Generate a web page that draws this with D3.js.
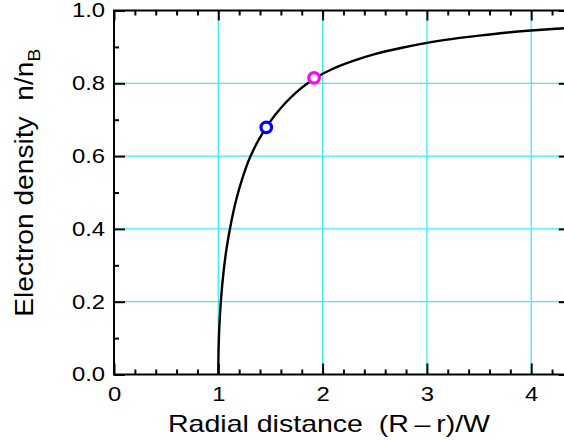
<!DOCTYPE html>
<html>
<head>
<meta charset="utf-8">
<script src="https://cdn.jsdelivr.net/npm/d3@7"></script>
<style>
  html, body { margin: 0; padding: 0; background: #fff; }
  svg { display: block; }
  text { font-family: Arial, "Liberation Sans", Helvetica, sans-serif; fill: #000; }
</style>
</head>
<body>
<svg id="chart" width="564" height="440"></svg>
<script>
// ---- data ----
const curveX = [1.0, 1.001, 1.004, 1.01, 1.025, 1.05, 1.08, 1.12, 1.17, 1.23, 1.30, 1.38, 1.46, 1.55, 1.65, 1.75, 1.85, 1.95, 2.1, 2.3, 2.5, 2.75, 3.0, 3.25, 3.5, 3.75, 4.0, 4.2, 4.4];
const curveY = [0.0, 0.043, 0.084, 0.131, 0.203, 0.281, 0.348, 0.413, 0.478, 0.538, 0.594, 0.641, 0.679, 0.715, 0.748, 0.776, 0.799, 0.818, 0.840, 0.862, 0.880, 0.897, 0.911, 0.922, 0.931, 0.939, 0.945, 0.949, 0.953];
const markerNames = ["blue", "magenta"];
const markerX = [1.46, 1.918];
const markerY = [0.679, 0.815];
const xTickValues = [0, 1, 2, 3, 4];
const xTickLabels = ["0", "1", "2", "3", "4"];
const xMinorValues = [0.2,0.4,0.6,0.8,1.2,1.4,1.6,1.8,2.2,2.4,2.6,2.8,3.2,3.4,3.6,3.8,4.2];
const yTickValues = [0, 0.2, 0.4, 0.6, 0.8, 1.0];
const yTickLabels = ["0.0", "0.2", "0.4", "0.6", "0.8", "1.0"];
const yMinorValues = [0.1, 0.3, 0.5, 0.7, 0.9];
const xGridValues = [1, 2, 3, 4];
const yGridValues = [0.2, 0.4, 0.6, 0.8];
const xTitle = "Radial distance\u00a0\u00a0(R\u2009\u2013\u2009r)/W";
const yTitleMain = "Electron density\u00a0\u00a0n/n";
const yTitleSub = "B";
const xMax = 4.37;

// ---- layout ----
const svg = d3.select("#chart");
const x = d3.scaleLinear().domain([0, xMax]).range([114, 114 + 104.3 * xMax]);
const y = d3.scaleLinear().domain([0, 1]).range([374.5, 10.5]);
const markerColor = d3.scaleOrdinal().domain(markerNames).range(["#0000ff", "#ff00ff"]);
const x0 = x(0), x1 = x(xMax), yb = y(0), yt = y(1);

function widen(sel, f) {
  sel.each(function () {
    const L = this.getComputedTextLength();
    d3.select(this).attr("textLength", L * f).attr("lengthAdjust", "spacingAndGlyphs");
  });
}

// grid
const grid = svg.append("g").attr("stroke", "#3fecf6").attr("stroke-width", 1.3);
grid.selectAll("line.gx").data(xGridValues).join("line")
  .attr("x1", d => x(d)).attr("x2", d => x(d)).attr("y1", yb).attr("y2", yt);
grid.selectAll("line.gy").data(yGridValues).join("line")
  .attr("y1", d => y(d)).attr("y2", d => y(d)).attr("x1", x0).attr("x2", x1);

// curve
const pts = curveX.map((v, i) => [v, curveY[i]]);
svg.append("path")
  .attr("d", d3.line().x(d => x(d[0])).y(d => y(d[1])).curve(d3.curveCatmullRom.alpha(0.5))(pts))
  .attr("fill", "none").attr("stroke", "#000").attr("stroke-width", 2.4);

// markers
svg.selectAll("circle.m").data(markerNames).join("circle")
  .attr("cx", (d, i) => x(markerX[i])).attr("cy", (d, i) => y(markerY[i]))
  .attr("r", 5.3).attr("fill", "#fff").attr("stroke", d => markerColor(d)).attr("stroke-width", 3.2);

// axes
function styleAxis(g) {
  g.select(".domain").remove();
  g.selectAll(".tick line").attr("stroke", "#000").attr("stroke-width", 2);
  g.selectAll("text").style("font-size", "20px").style("font-family", "Arial, 'Liberation Sans', sans-serif");
}
const xa = svg.append("g").attr("transform", `translate(0,${yb})`)
  .call(d3.axisBottom(x).tickValues(xTickValues).tickFormat((d, i) => xTickLabels[i]).tickSizeInner(-11).tickSizeOuter(0).tickPadding(12.5))
  .call(styleAxis);
svg.append("g").attr("transform", `translate(0,${yb})`)
  .call(d3.axisBottom(x).tickValues(xMinorValues).tickFormat("").tickSizeInner(-5).tickSizeOuter(0))
  .call(styleAxis);
svg.append("g").attr("transform", `translate(0,${yt})`)
  .call(d3.axisTop(x).tickValues(xTickValues).tickFormat("").tickSizeInner(-10).tickSizeOuter(0))
  .call(styleAxis);
svg.append("g").attr("transform", `translate(0,${yt})`)
  .call(d3.axisTop(x).tickValues(xMinorValues).tickFormat("").tickSizeInner(-5).tickSizeOuter(0))
  .call(styleAxis);
const ya = svg.append("g").attr("transform", `translate(${x0},0)`)
  .call(d3.axisLeft(y).tickValues(yTickValues).tickFormat((d, i) => yTickLabels[i]).tickSizeInner(-11).tickSizeOuter(0).tickPadding(9))
  .call(styleAxis);
svg.append("g").attr("transform", `translate(${x0},0)`)
  .call(d3.axisLeft(y).tickValues(yMinorValues).tickFormat("").tickSizeInner(-5).tickSizeOuter(0))
  .call(styleAxis);
svg.append("g").attr("transform", `translate(${x1},0)`)
  .call(d3.axisRight(y).tickValues(yTickValues).tickFormat("").tickSizeInner(-11).tickSizeOuter(0))
  .call(styleAxis);
svg.append("g").attr("transform", `translate(${x1},0)`)
  .call(d3.axisRight(y).tickValues(yMinorValues).tickFormat("").tickSizeInner(-5).tickSizeOuter(0))
  .call(styleAxis);
widen(xa.selectAll("text"), 1.19);
widen(ya.selectAll("text"), 1.19);

// frame
svg.append("rect").attr("x", x0).attr("y", yt).attr("width", x1 - x0).attr("height", yb - yt)
  .attr("fill", "none").attr("stroke", "#000").attr("stroke-width", 2);

// titles
svg.append("text").attr("x", 168).attr("y", 432).style("font-size", "24px")
  .text(xTitle).attr("textLength", 322).attr("lengthAdjust", "spacingAndGlyphs");

const yt2 = svg.append("text").attr("transform", "translate(32.5,316.7) rotate(-90)").style("font-size", "25px")
  .attr("textLength", 268).attr("lengthAdjust", "spacingAndGlyphs");
yt2.append("tspan").text(yTitleMain);
yt2.append("tspan").attr("dy", 7).style("font-size", "17px").text(yTitleSub);
</script>
</body>
</html>
